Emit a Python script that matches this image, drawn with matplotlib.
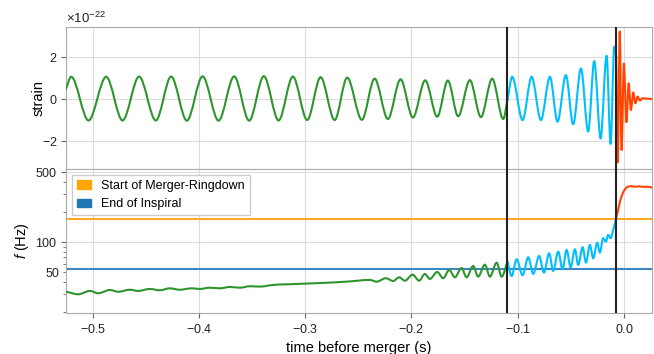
import numpy as np
import matplotlib
matplotlib.use("Agg")
import matplotlib.pyplot as plt
from matplotlib.path import Path
from matplotlib.patches import PathPatch, Patch
from matplotlib.ticker import LogLocator, FuncFormatter, ScalarFormatter

plt.rcParams['font.family'] = ['Liberation Sans', 'DejaVu Sans']
plt.rcParams['axes.formatter.use_mathtext'] = True
plt.rcParams['mathtext.fontset'] = 'custom'
plt.rcParams['mathtext.rm'] = 'Liberation Sans'
plt.rcParams['mathtext.it'] = 'Liberation Sans:italic'

h_unit = 1e-22
t_insp = [-0.5251, -0.5201, -0.5038, -0.4872, -0.4718, -0.4562, -0.4405, -0.4261,
          -0.4113, -0.3965, -0.3815, -0.3668, -0.3527, -0.3389, -0.3250, -0.3116,
          -0.2981, -0.2855, -0.2723, -0.2605, -0.2467, -0.2347, -0.2222, -0.2103,
          -0.1987, -0.1871, -0.1758, -0.1658, -0.1561, -0.1451, -0.1347, -0.1241,
          -0.1137, -0.1096]
h_insp = [0.48, 1.07, -1.02, 1.07, -1.02, 1.08, -1.02, 1.08,
          -1.03, 1.09, -1.03, 1.09, -1.03, 1.10, -1.02, 1.08,
          -1.00, 1.05, -1.00, 1.03, -0.99, 0.98, -0.95, 0.95,
          -0.88, 0.90, -0.84, 0.89, -0.82, 0.91, -0.86, 0.98,
          -0.95, 0.0]
t_merg = [-0.1096, -0.1053, -0.0955, -0.0870, -0.0783, -0.0698, -0.0626, -0.0548,
          -0.0479, -0.0406, -0.0338, -0.0281, -0.0221, -0.0165, -0.0127, -0.0093,
          -0.0074]
h_merg = [0.0, 1.07, -1.00, 1.07, -1.00, 1.07, -1.08, 1.15,
          -1.20, 1.47, -1.55, 1.82, -1.88, 2.08, -2.14, 2.51,
          2.00]
t_ring = [-0.0074, -0.0060, -0.0041, -0.0024, -0.0002, 0.0022, 0.0043, 0.0064,
          0.0086, 0.0106, 0.0127, 0.0149, 0.0170, 0.0262]
h_ring = [2.00, -3.02, 3.23, -2.43, 1.70, -1.10, 0.76, -0.52,
          0.32, -0.20, 0.12, -0.07, 0.04, 0.0]

# frequency track (Hz)
tf_insp = [-0.5245, -0.5135, -0.5025, -0.4947, -0.4837, -0.4759, -0.4649, -0.4571,
           -0.4461, -0.4367, -0.4273, -0.4179, -0.4069, -0.3991, -0.3897, -0.3802,
           -0.3708, -0.3614, -0.3520, -0.3426, -0.3301, -0.3144, -0.2925, -0.2611,
           -0.2391, -0.2328, -0.2241, -0.2172, -0.2116, -0.2062, -0.1990, -0.1928,
           -0.1874, -0.1827, -0.1758, -0.1702, -0.1645, -0.1592, -0.1529, -0.1482,
           -0.1420, -0.1373, -0.1310, -0.1262, -0.1199, -0.1152, -0.1097]
f_insp = [31.8, 30.0, 32.4, 30.7, 33.1, 31.8, 33.3, 32.4,
          33.9, 32.9, 34.4, 33.3, 34.4, 33.9, 34.9, 34.4,
          35.5, 34.9, 36.1, 35.8, 37.2, 37.8, 38.6, 40.1,
          41.7, 40.1, 43.4, 40.7, 44.3, 41.0, 47.1, 41.0,
          47.9, 42.7, 50.1, 43.4, 52.5, 44.3, 54.9, 44.3,
          57.5, 45.0, 59.3, 45.0, 62.1, 45.0, 63.5]
tf_merg = [-0.1097, -0.1058, -0.1011, -0.0955, -0.0902, -0.0855, -0.0799, -0.0754,
           -0.0705, -0.0667, -0.0620, -0.0579, -0.0541, -0.0503, -0.0463, -0.0432,
           -0.0390, -0.0359, -0.0322, -0.0291, -0.0253, -0.0228, -0.0197, -0.0171,
           -0.0150, -0.0127, -0.0103, -0.0076]
f_merg = [63.5, 45.7, 67.1, 46.5, 70.3, 47.9, 72.4, 49.3,
          77.1, 51.3, 80.0, 53.3, 83.2, 55.8, 84.5, 58.9,
          88.5, 62.1, 93.3, 68.7, 98.4, 78.1, 108.9, 100.7,
          117.5, 108.9, 131.8, 171.0]
tf_ring = [-0.0076, -0.0058, -0.0040, -0.0021, -0.0002, 0.0017, 0.0036, 0.0064,
           0.0102, 0.0139, 0.0177, 0.0214, 0.0262]
f_ring = [171.0, 205.0, 250.0, 290.0, 322.0, 345.0, 356.0, 360.0,
          356.0, 359.0, 355.0, 356.0, 350.0]

t_insp_end = -0.1097
t_merg_end = -0.0077
f_merger_start = 171.0
f_inspiral_end = 53.7


def smooth_path(t, y, log=False):
    # cubic bezier through the read points, flat at peaks and troughs
    t = np.asarray(t, dtype=float)
    v = np.log10(y) if log else np.asarray(y, dtype=float)
    m = np.gradient(v, t)
    turn = (v[1:-1] - v[:-2]) * (v[2:] - v[1:-1]) <= 0
    m[1:-1][turn] = 0.0
    h = np.diff(t) / 3
    c1 = np.column_stack([t[:-1] + h, v[:-1] + m[:-1] * h])
    c2 = np.column_stack([t[1:] - h, v[1:] - m[1:] * h])
    p3 = np.column_stack([t[1:], v[1:]])
    verts = np.vstack([[t[0], v[0]], np.stack([c1, c2, p3], axis=1).reshape(-1, 2)])
    if log:
        verts[:, 1] = 10 ** verts[:, 1]
    codes = [Path.MOVETO] + [Path.CURVE4] * (len(verts) - 1)
    return Path(verts, codes)


def curve(ax, t, y, color, log=False):
    ax.add_patch(PathPatch(smooth_path(t, y, log), fill=False, edgecolor=color,
                           lw=1.5, joinstyle='round', capstyle='round', zorder=3))


fig = plt.figure(figsize=(6.54, 3.54), dpi=100)
ax1 = fig.add_axes([0.1009, 0.5226, 0.8960, 0.4011])
ax2 = fig.add_axes([0.1009, 0.1158, 0.8960, 0.4068], sharex=ax1)

c_insp = '#2e952e'
c_merg = 'deepskyblue'
c_ring = 'orangered'

curve(ax1, t_insp, np.array(h_insp) * h_unit, c_insp)
curve(ax1, t_merg, np.array(h_merg) * h_unit, c_merg)
curve(ax1, t_ring, np.array(h_ring) * h_unit, c_ring)

curve(ax2, tf_insp, f_insp, c_insp, log=True)
curve(ax2, tf_merg, f_merg, c_merg, log=True)
curve(ax2, tf_ring, f_ring, c_ring, log=True)

ax2.axhline(f_merger_start, color='#ffa726', lw=1.5, zorder=2)
ax2.axhline(f_inspiral_end, color='#3a87c4', lw=1.5, zorder=2)

for ax in (ax1, ax2):
    for tv in (t_insp_end, t_merg_end):
        ax.axvline(tv, color='#222222', lw=1.5, zorder=4)
    ax.grid(True, color='#dcdcdc', lw=0.8, zorder=0)
    ax.set_axisbelow(True)
    for s in ax.spines.values():
        s.set_color('#aaaaaa')
    ax.tick_params(direction='out', length=3.5, width=0.8, color='#666666',
                   labelsize=9, labelcolor='#222222')
    ax.tick_params(which='minor', direction='out', length=2, width=0.6, color='#666666',
                   labelsize=9, labelcolor='#222222')
    ax.tick_params(axis='y', which='both', pad=2.5)

ax1.set_xlim(-0.525, 0.0262)
ax1.set_ylim(-3.34e-22, 3.45e-22)
ax1.set_yticks([-2e-22, 0, 2e-22])
ax1.yaxis.get_offset_text().set_fontsize(9.5)
ax1.tick_params(axis='x', labelbottom=False)
ax1.set_ylabel('strain', fontsize=10.5)
ax1.yaxis.set_label_coords(-0.035, 0.5)

ax2.set_yscale('log')
ax2.set_ylim(19.5, 535)
ax2.set_yticks([100, 500])
ax2.yaxis.set_major_formatter(ScalarFormatter())
ax2.yaxis.set_minor_locator(LogLocator(subs=np.arange(2, 10)))
ax2.yaxis.set_minor_formatter(FuncFormatter(lambda v, p: '50' if abs(v - 50) < 1e-6 else ''))
ax2.set_xticks([-0.5, -0.4, -0.3, -0.2, -0.1, 0.0])
ax2.set_ylabel('$f$ (Hz)', fontsize=10.5)
ax2.yaxis.set_label_coords(-0.06, 0.5)
ax2.set_xlabel('time before merger (s)', fontsize=10.5)

handles = [Patch(color='orange', label='Start of Merger-Ringdown'),
           Patch(color='tab:blue', label='End of Inspiral')]
leg = ax2.legend(handles=handles, loc='upper left', fontsize=9, handlelength=1.1,
                 fancybox=False, framealpha=1, edgecolor='#cccccc')
leg.set_zorder(5)

fig.savefig('out.png', dpi=100)
